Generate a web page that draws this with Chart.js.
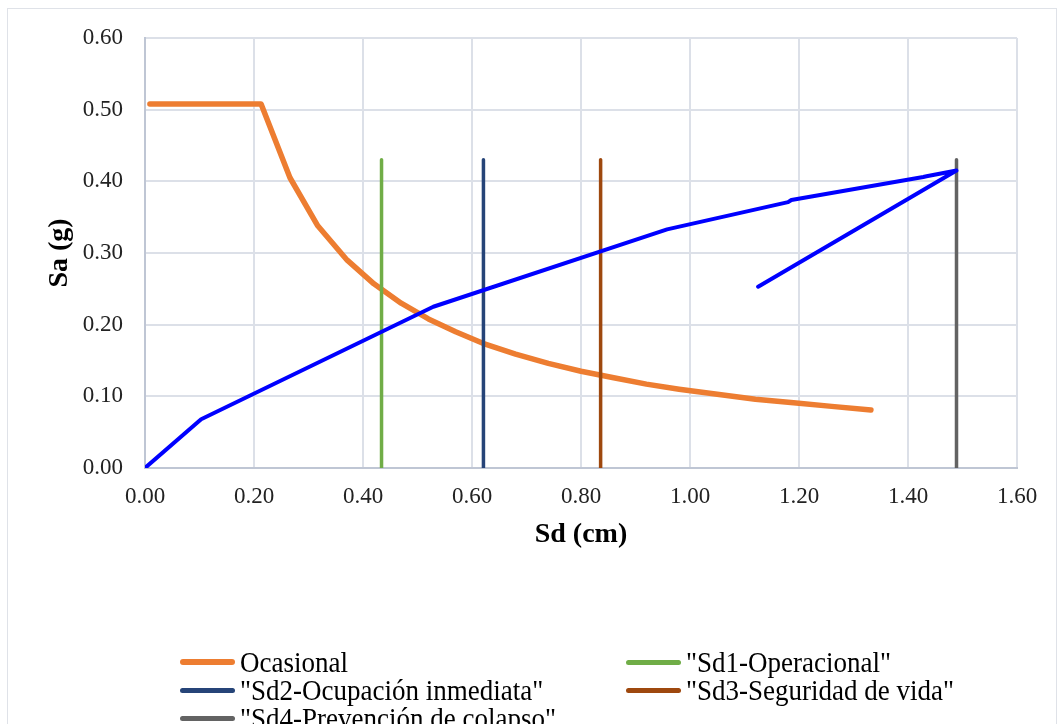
<!DOCTYPE html>
<html>
<head>
<meta charset="utf-8">
<script src="https://cdn.jsdelivr.net/npm/chart.js@4.4.1/dist/chart.umd.min.js"></script>
<style>
    body { margin: 0; background: #fff; }
    #wrap { position: relative; width: 1059px; height: 724px; overflow: hidden; }
    #frame { position: absolute; left: 7px; top: 8px; width: 1050px; height: 760px; border: 1px solid #dfe2e8; box-sizing: border-box; }
    #chart { position: absolute; left: 0; top: 0; }
    .leg { position: absolute; display: flex; align-items: center; font-family: 'Liberation Serif', 'Times New Roman', serif; font-size: 27px; color: #000; white-space: nowrap; line-height: 28px; }
    .leg i { display: inline-block; width: 55px; border-radius: 3px; margin-right: 5px; }
    .leg span { display: inline-block; transform: scaleY(1.12); }
</style>
</head>
<body>
<div id="wrap">
    <div id="frame"></div>
    <canvas id="chart" width="1059" height="724"></canvas>
</div>
<script>
// espectro ocasional
const ocasionalSd = [0.009, 0.213, 0.266, 0.317, 0.371, 0.42, 0.47, 0.52, 0.57, 0.62, 0.68, 0.74, 0.80, 0.86, 0.92, 0.98, 1.05, 1.12, 1.19, 1.26, 1.332];
const ocasionalSa = [0.508, 0.508, 0.405, 0.338, 0.290, 0.257, 0.230, 0.208, 0.190, 0.174, 0.159, 0.146, 0.135, 0.126, 0.117, 0.110, 0.103, 0.096, 0.091, 0.086, 0.081];

// curva de capacidad
const capacidadSd = [0, 0.103, 0.529, 0.958, 1.180, 1.186, 1.428, 1.434, 1.489, 1.125];
const capacidadSa = [0, 0.068, 0.225, 0.333, 0.371, 0.374, 0.406, 0.407, 0.415, 0.253];

// limites de desempeño
const limiteNombres = ['"Sd1-Operacional"', '"Sd2-Ocupación inmediata"', '"Sd3-Seguridad de vida"', '"Sd4-Prevención de colapso"'];
const limiteSd = [0.434, 0.621, 0.836, 1.489];
const limiteSa = [0, 0.43];
const limiteColores = ['#70AD47', '#264478', '#9E480E', '#636363'];

const xTicks = [0, 0.2, 0.4, 0.6, 0.8, 1.0, 1.2, 1.4, 1.6];
const yTicks = [0, 0.1, 0.2, 0.3, 0.4, 0.5, 0.6];

const serif = "'Liberation Serif', 'Times New Roman', serif";

const datasets = [{
    label: 'Ocasional',
    data: ocasionalSd.map((x, i) => ({ x: x, y: ocasionalSa[i] })),
    borderColor: '#ED7D31',
    borderWidth: 5.5,
    order: 3
}];
limiteSd.forEach((sd, i) => {
    datasets.push({
        label: limiteNombres[i],
        data: limiteSa.map(sa => ({ x: sd, y: sa })),
        borderColor: limiteColores[i],
        borderWidth: 3.5,
        order: 2
    });
});
datasets.push({
    label: 'Capacidad',
    data: capacidadSd.map((x, i) => ({ x: x, y: capacidadSa[i] })),
    borderColor: '#0000FF',
    borderWidth: 4,
    order: 1,
    noLegend: true
});

new Chart(document.getElementById('chart'), {
    type: 'line',
    data: { datasets: datasets },
    options: {
        responsive: false,
        animation: false,
        elements: {
            point: { radius: 0 },
            line: { tension: 0, borderCapStyle: 'round', borderJoinStyle: 'round', fill: false }
        },
        layout: { padding: { left: 43, top: 38, right: 42, bottom: 172 } },
        plugins: { legend: { display: false }, tooltip: { enabled: false } },
        scales: {
            x: {
                type: 'linear',
                min: 0,
                max: 1.6,
                afterBuildTicks: s => { s.ticks = xTicks.map(v => ({ value: v })); },
                afterFit: s => { s.height = 84; },
                ticks: {
                    callback: v => v.toFixed(2),
                    font: { family: serif, size: 23 },
                    color: '#222',
                    padding: 15
                },
                grid: { color: '#dce0e8', lineWidth: 2, drawTicks: false },
                border: { color: '#bfc6d4', width: 2 },
                title: {
                    display: true,
                    text: 'Sd (cm)',
                    font: { family: serif, size: 28, weight: 'bold' },
                    color: '#000',
                    padding: 0
                }
            },
            y: {
                min: 0,
                max: 0.6,
                afterBuildTicks: s => { s.ticks = yTicks.map(v => ({ value: v })); },
                afterFit: s => { s.width = 102; },
                ticks: {
                    callback: v => v.toFixed(2),
                    font: { family: serif, size: 23 },
                    color: '#222',
                    padding: 22
                },
                grid: { color: '#dce0e8', lineWidth: 2, drawTicks: false },
                border: { color: '#bfc6d4', width: 2 },
                title: {
                    display: true,
                    text: 'Sa (g)',
                    font: { family: serif, size: 28, weight: 'bold' },
                    color: '#000',
                    padding: 0
                }
            }
        }
    }
});

// leyenda en dos columnas
const wrap = document.getElementById('wrap');
datasets.filter(d => !d.noLegend).forEach((d, i) => {
    const item = document.createElement('div');
    item.className = 'leg';
    item.style.left = (i % 2 ? 626 : 180) + 'px';
    item.style.top = (648 + Math.floor(i / 2) * 28) + 'px';
    const mark = document.createElement('i');
    mark.style.height = (d.borderWidth > 4 ? 6 : 5) + 'px';
    mark.style.background = d.borderColor;
    item.appendChild(mark);
    const txt = document.createElement('span');
    txt.textContent = d.label;
    item.appendChild(txt);
    wrap.appendChild(item);
});
</script>
</body>
</html>
